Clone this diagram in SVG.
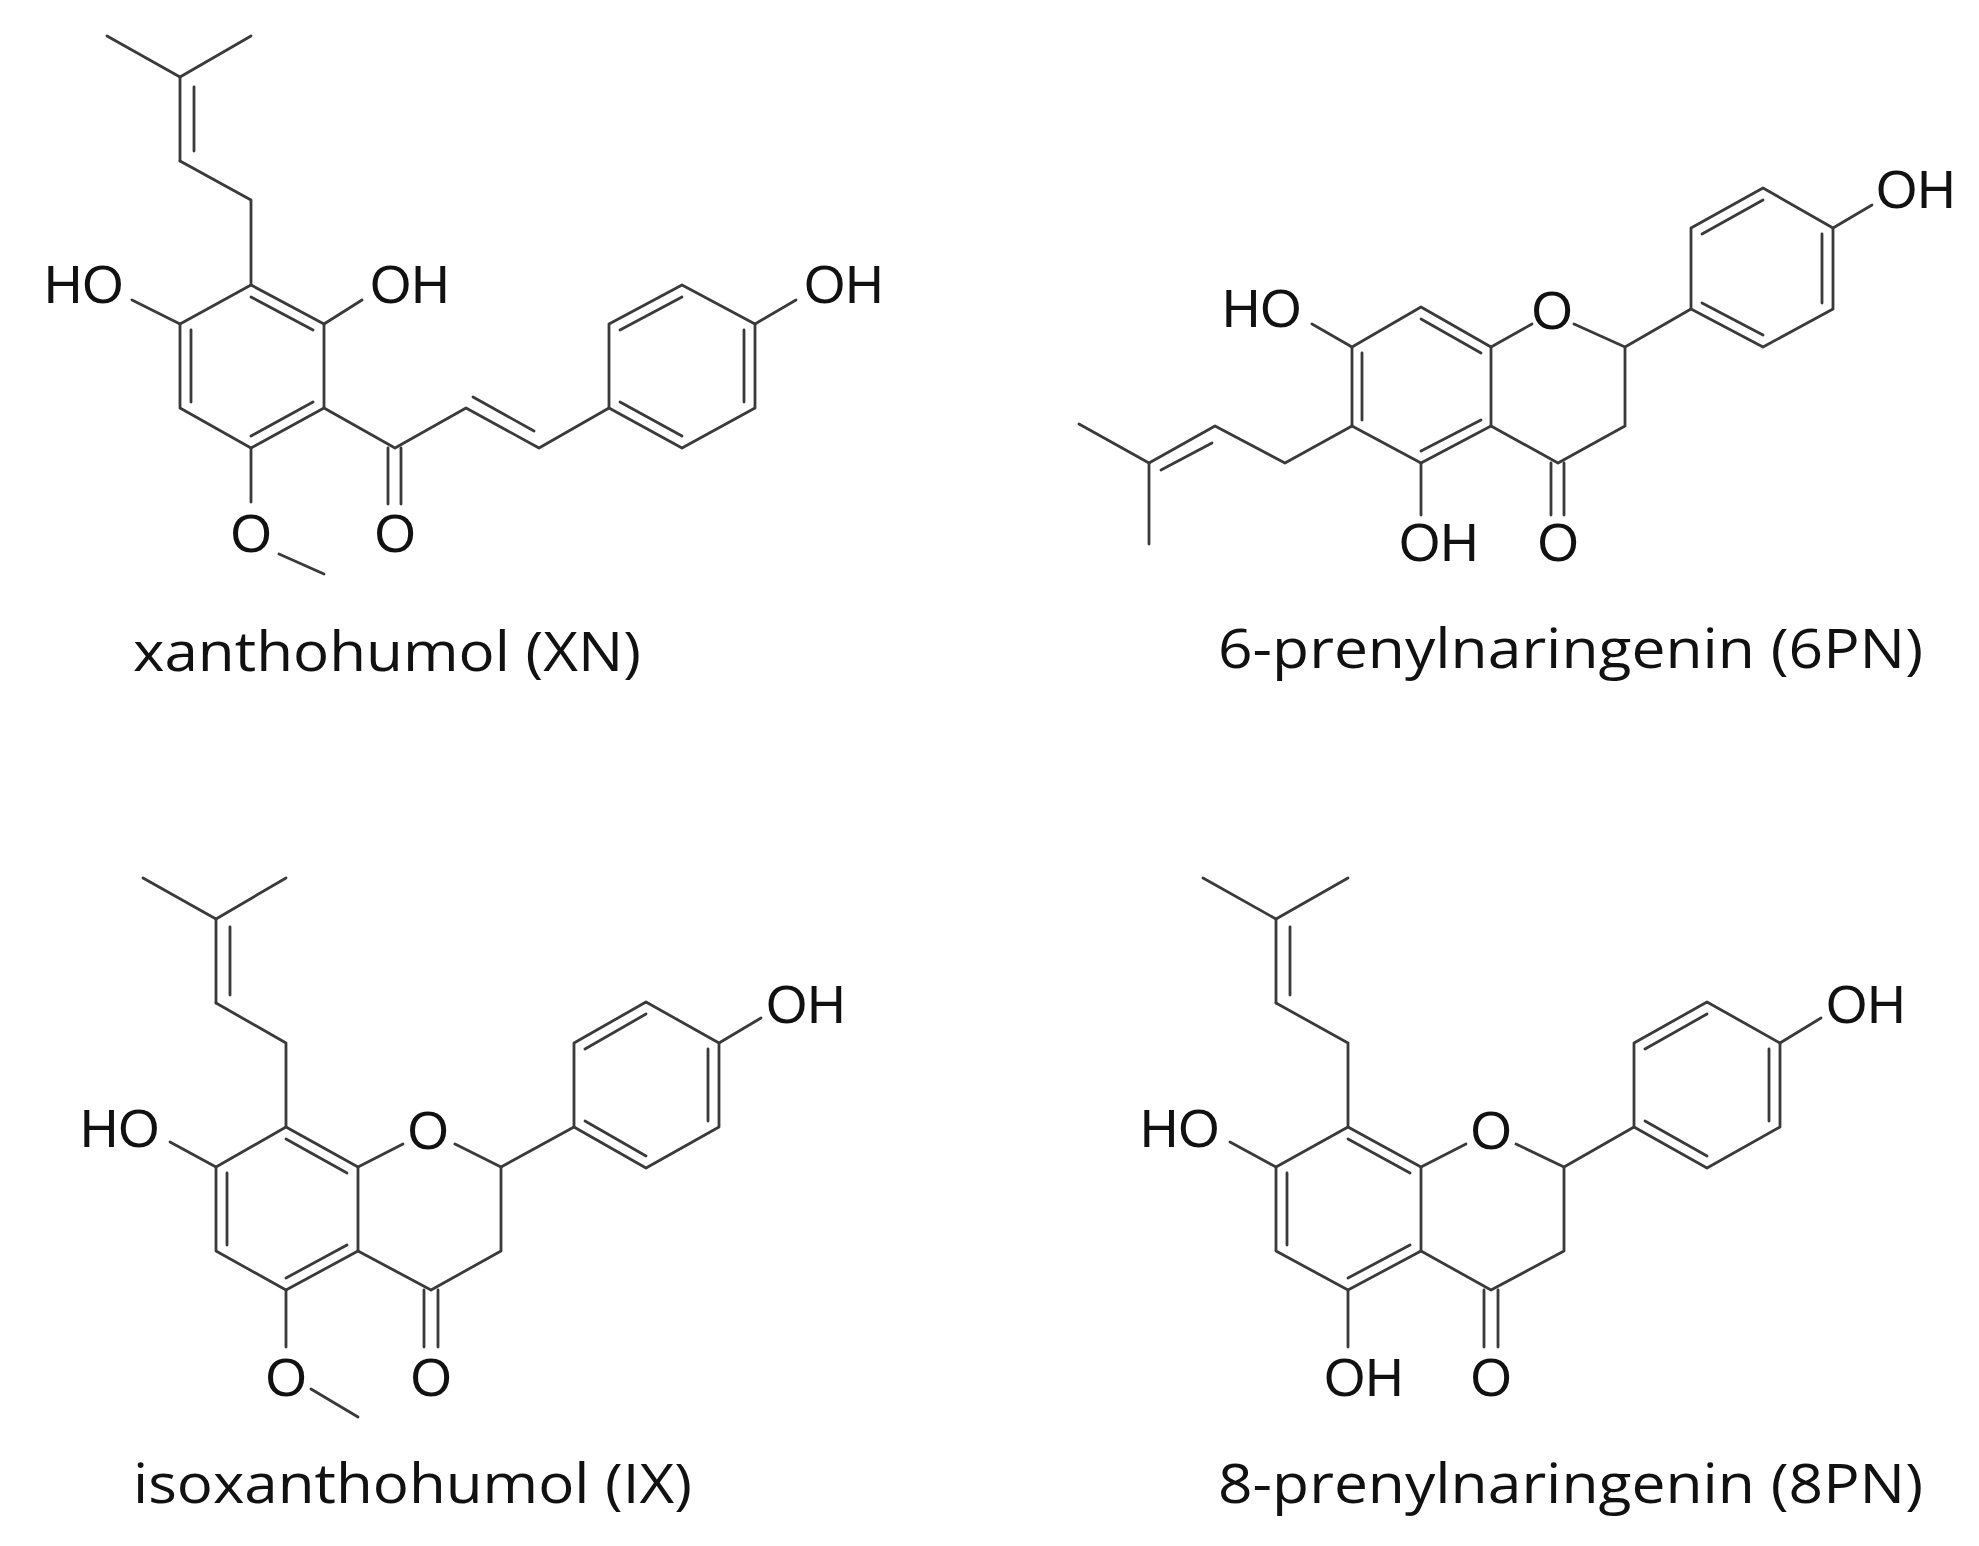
<svg xmlns="http://www.w3.org/2000/svg" width="1979" height="1546" viewBox="0 0 1979 1546">
<style>
line,polyline,polygon{stroke:#3a3a3a;stroke-width:2.8;fill:none;stroke-linecap:round;stroke-linejoin:round}
.a{font-family:"Liberation Sans",Arial,sans-serif;font-size:53px;fill:#111}
.m{text-anchor:middle}
.l{font-family:"Open Sans","Liberation Sans",sans-serif;font-size:54px;fill:#111}
</style>
<rect width="1979" height="1546" fill="#fff"/>
<g id="XN">
<polyline points="107,36 180,77 251,36"/>
<line x1="180" y1="77" x2="180" y2="161"/><line x1="194" y1="87" x2="194" y2="151"/>
<polyline points="180,161 251,200 251,285"/>
<polygon points="251,285 324,324 324,408 251,448 180,408 180,324"/>
<line x1="191" y1="330" x2="191" y2="402"/><line x1="251" y1="297" x2="313" y2="330"/><line x1="313" y1="402" x2="251" y2="436"/>
<line x1="180" y1="324" x2="132" y2="300"/><line x1="324" y1="324" x2="362" y2="300"/>
<line x1="251" y1="448" x2="251" y2="502"/><line x1="279" y1="554" x2="324" y2="574"/>
<polyline points="324,408 395,448 466,408 539,448 609,408"/>
<line x1="473" y1="397" x2="534" y2="431"/>
<line x1="388" y1="448" x2="388" y2="504"/><line x1="401" y1="448" x2="401" y2="504"/>
<polygon points="609,408 609,324 682,285 755,324 755,408 682,448"/>
<line x1="620" y1="330" x2="682" y2="297"/><line x1="744" y1="330" x2="744" y2="402"/><line x1="620" y1="402" x2="682" y2="436"/>
<line x1="755" y1="324" x2="796" y2="300"/>
<text class="a" x="44" y="303">HO</text><text class="a" x="370" y="303">OH</text><text class="a" x="804" y="303">OH</text>
<text class="a m" x="251" y="552">O</text><text class="a m" x="395" y="552">O</text>
<text class="l" x="133" y="671" textLength="508" lengthAdjust="spacingAndGlyphs">xanthohumol (XN)</text>
</g>
<g id="6PN">
<polygon points="1421,307 1491,347 1491,426 1421,463 1352,426 1352,347"/>
<line x1="1362" y1="353" x2="1362" y2="420"/><line x1="1421" y1="319" x2="1481" y2="353"/><line x1="1481" y1="420" x2="1421" y2="451"/>
<line x1="1491" y1="347" x2="1532" y2="324"/><polyline points="1574,324 1625,347 1625,426 1558,463 1491,426"/>
<line x1="1551" y1="463" x2="1551" y2="515"/><line x1="1564" y1="463" x2="1564" y2="515"/>
<line x1="1625" y1="347" x2="1691" y2="309"/>
<polygon points="1691,309 1691,228 1763,188 1833,228 1833,309 1763,347"/>
<line x1="1702" y1="234" x2="1763" y2="200"/><line x1="1822" y1="234" x2="1822" y2="303"/><line x1="1702" y1="303" x2="1763" y2="335"/>
<line x1="1833" y1="228" x2="1872" y2="205"/>
<line x1="1352" y1="347" x2="1312" y2="324"/><line x1="1421" y1="463" x2="1421" y2="515"/>
<polyline points="1352,426 1285,463 1215,426 1149,463 1079,424"/><line x1="1149" y1="463" x2="1149" y2="544"/>
<line x1="1161" y1="470" x2="1212" y2="443"/>
<text class="a" x="1876" y="208">OH</text><text class="a" x="1222" y="327">HO</text>
<text class="a m" x="1552" y="329">O</text><text class="a m" x="1558" y="561">O</text><text class="a" x="1399" y="561">OH</text>
<text class="l" x="1218" y="668" textLength="705" lengthAdjust="spacingAndGlyphs">6-prenylnaringenin (6PN)</text>
</g>
<g id="IX">
<polyline points="143,878 216,919 286,878"/>
<line x1="216" y1="919" x2="216" y2="1003"/><line x1="230" y1="927" x2="230" y2="995"/>
<polyline points="216,1003 286,1043 286,1127"/>
<polygon points="286,1127 358,1167 358,1251 286,1290 216,1251 216,1167"/>
<line x1="227" y1="1173" x2="227" y2="1245"/><line x1="286" y1="1139" x2="347" y2="1173"/><line x1="347" y1="1245" x2="286" y2="1278"/>
<line x1="216" y1="1167" x2="170" y2="1142"/>
<line x1="358" y1="1167" x2="403" y2="1144"/><polyline points="455,1144 501,1167 501,1251 431,1290 358,1251"/>
<line x1="424" y1="1290" x2="424" y2="1347"/><line x1="438" y1="1290" x2="438" y2="1347"/>
<line x1="286" y1="1290" x2="286" y2="1347"/><line x1="311" y1="1389" x2="358" y2="1417"/>
<line x1="501" y1="1167" x2="574" y2="1127"/>
<polygon points="574,1127 574,1043 646,1002 719,1043 719,1127 646,1168"/>
<line x1="585" y1="1049" x2="646" y2="1014"/><line x1="708" y1="1049" x2="708" y2="1121"/><line x1="585" y1="1121" x2="646" y2="1156"/>
<line x1="719" y1="1043" x2="761" y2="1018"/>
<text class="a" x="80" y="1147">HO</text><text class="a m" x="428" y="1149">O</text><text class="a" x="766" y="1023">OH</text>
<text class="a m" x="286" y="1396">O</text><text class="a m" x="431" y="1396">O</text>
<text class="l" x="133" y="1503" textLength="559" lengthAdjust="spacingAndGlyphs">isoxanthohumol (IX)</text>
</g>
<g id="8PN">
<polyline points="1203,878 1276,919 1348,878"/>
<line x1="1276" y1="919" x2="1276" y2="1003"/><line x1="1290" y1="927" x2="1290" y2="995"/>
<polyline points="1276,1003 1348,1043 1348,1127"/>
<polygon points="1348,1127 1421,1167 1421,1251 1348,1290 1276,1251 1276,1167"/>
<line x1="1287" y1="1173" x2="1287" y2="1245"/><line x1="1348" y1="1139" x2="1410" y2="1173"/><line x1="1410" y1="1245" x2="1348" y2="1278"/>
<line x1="1276" y1="1167" x2="1230" y2="1142"/>
<line x1="1421" y1="1167" x2="1466" y2="1144"/><polyline points="1516,1144 1564,1167 1564,1251 1491,1290 1421,1251"/>
<line x1="1484" y1="1290" x2="1484" y2="1347"/><line x1="1498" y1="1290" x2="1498" y2="1347"/>
<line x1="1348" y1="1290" x2="1348" y2="1347"/>
<line x1="1564" y1="1167" x2="1634" y2="1127"/>
<polygon points="1634,1127 1634,1043 1707,1002 1780,1043 1780,1127 1707,1168"/>
<line x1="1645" y1="1049" x2="1707" y2="1014"/><line x1="1769" y1="1049" x2="1769" y2="1121"/><line x1="1645" y1="1121" x2="1707" y2="1156"/>
<line x1="1780" y1="1043" x2="1821" y2="1018"/>
<text class="a" x="1140" y="1147">HO</text><text class="a m" x="1491" y="1149">O</text><text class="a" x="1826" y="1023">OH</text>
<text class="a" x="1324" y="1396">OH</text><text class="a m" x="1491" y="1396">O</text>
<text class="l" x="1218" y="1503" textLength="705" lengthAdjust="spacingAndGlyphs">8-prenylnaringenin (8PN)</text>
</g>
</svg>
